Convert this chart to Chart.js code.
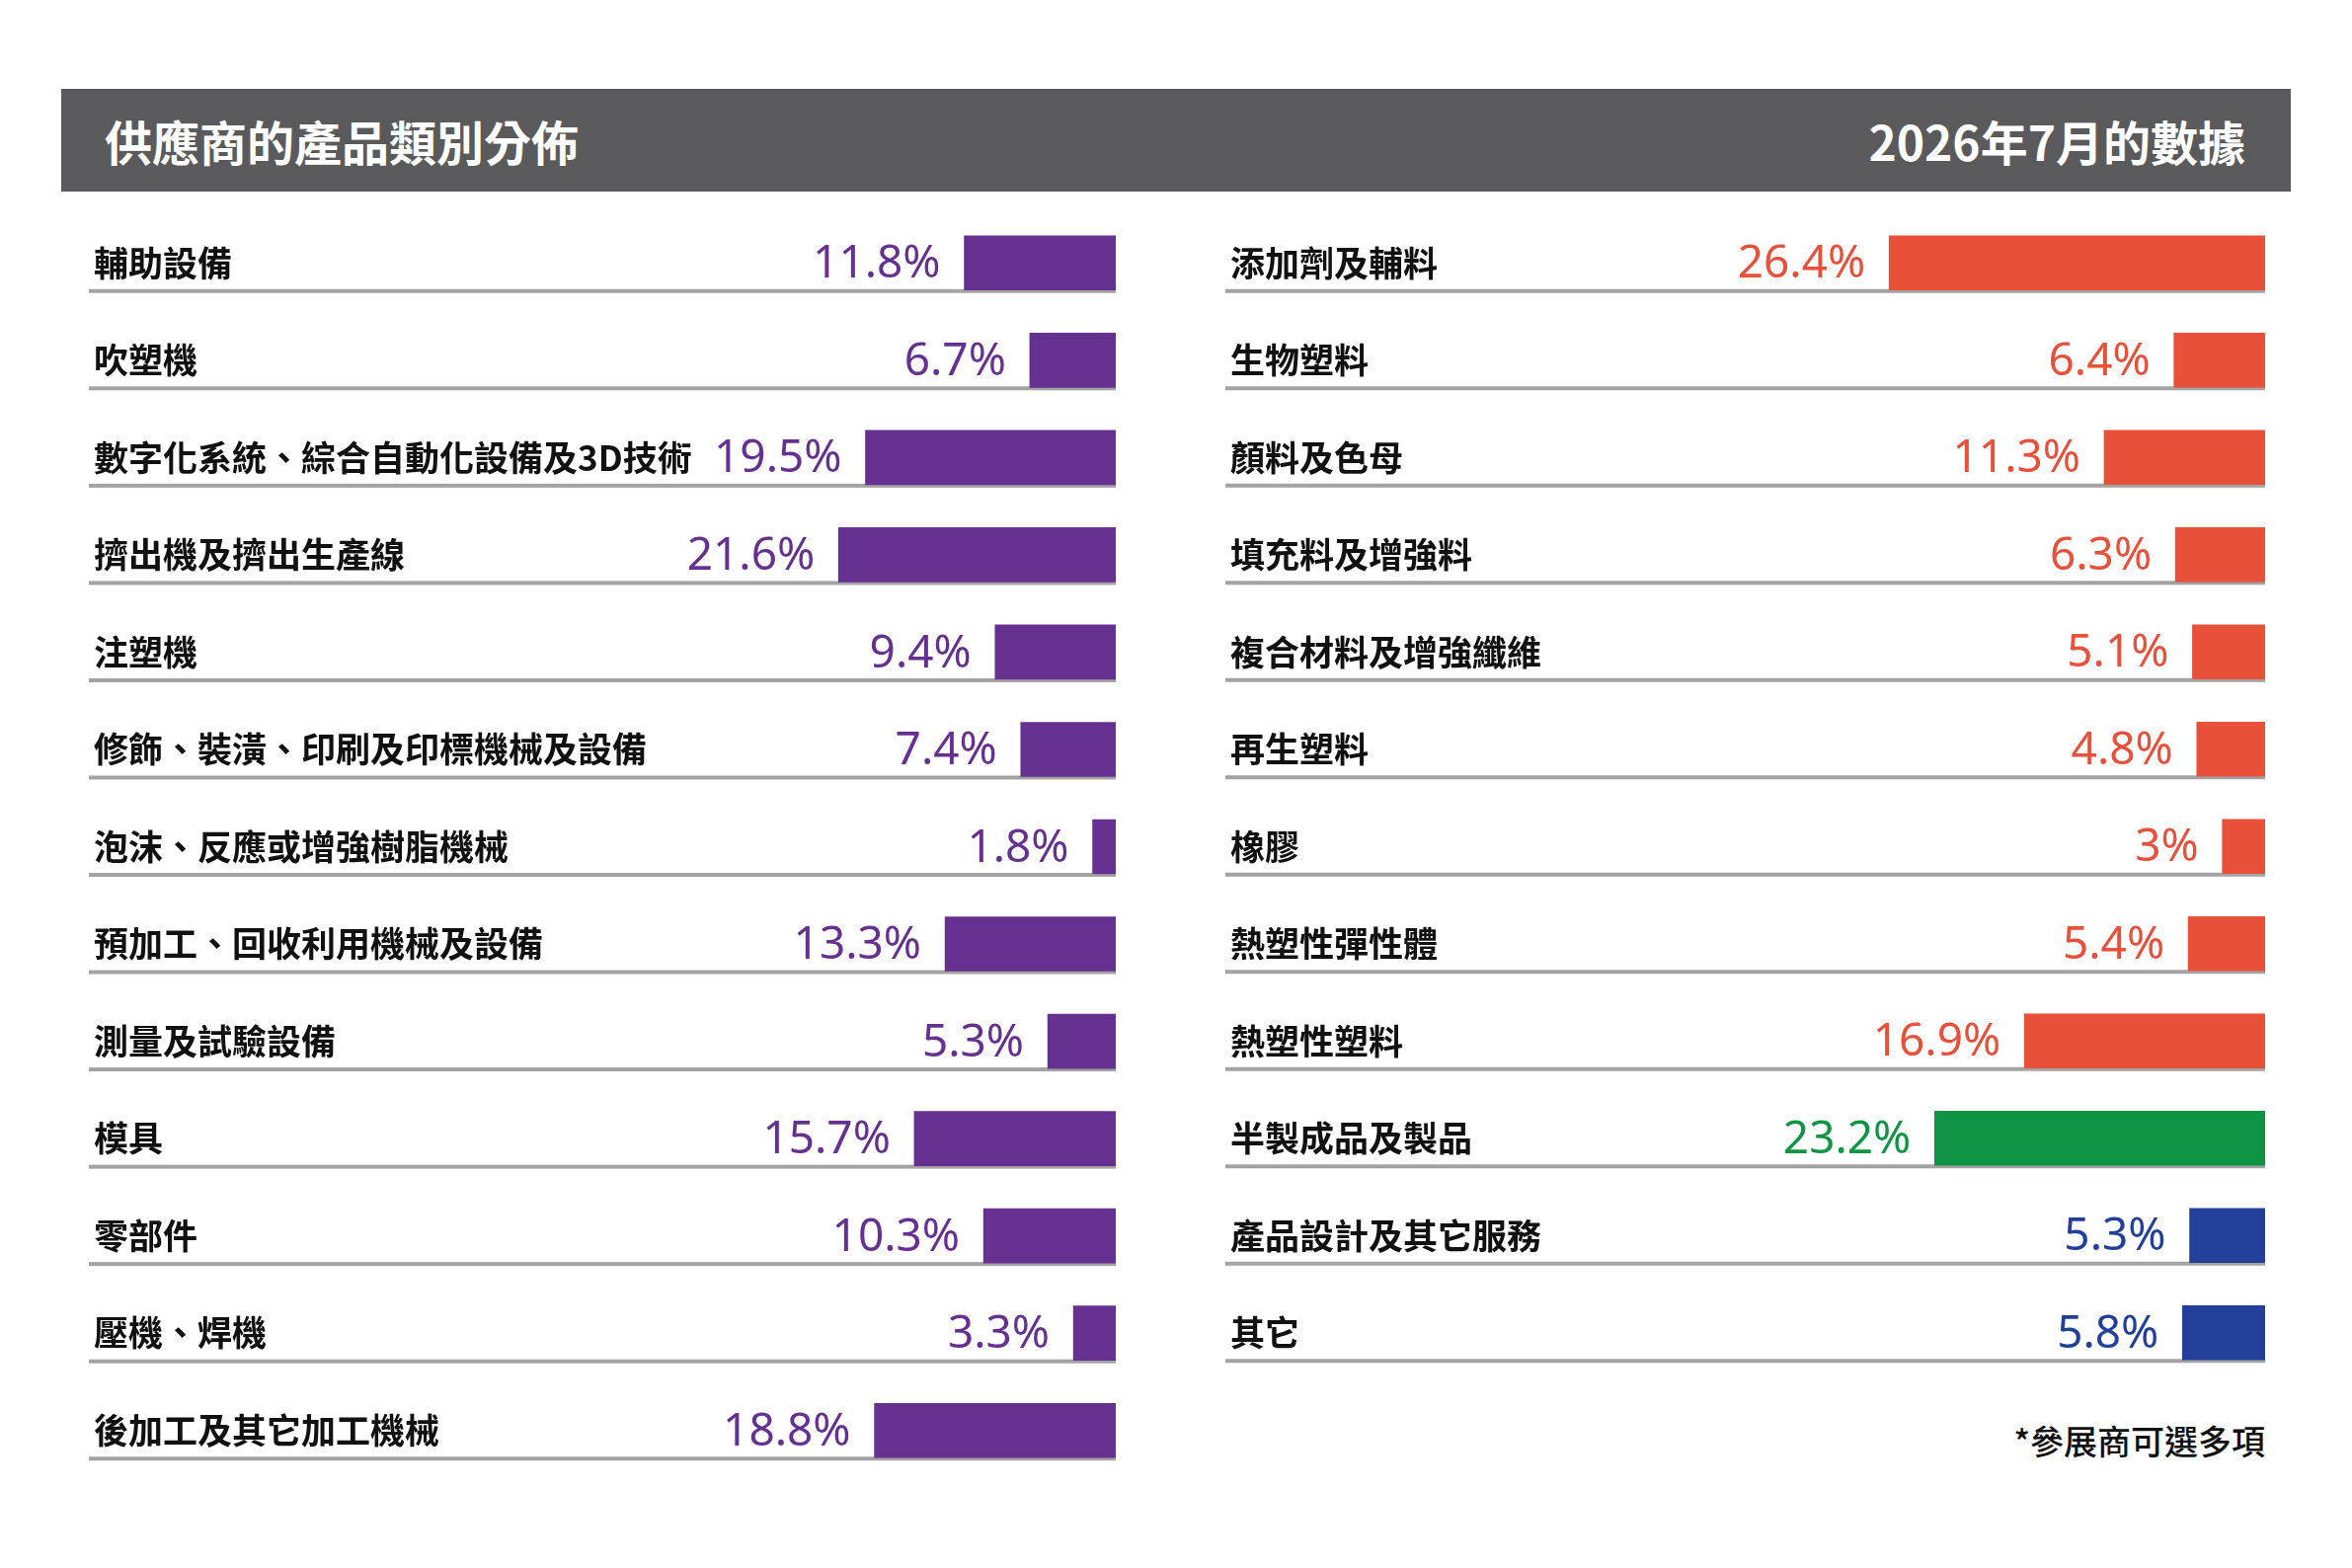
<!DOCTYPE html>
<html>
<head>
<meta charset="utf-8">
<script src="https://cdn.jsdelivr.net/npm/chart.js@4/dist/chart.umd.min.js"></script>
<style>
  html, body { margin: 0; padding: 0; background: #fff; }
  #page { position: relative; width: 2382px; height: 1588px; overflow: hidden; font-family: "Noto Sans CJK TC", "Noto Sans", sans-serif; }
  #header { position: absolute; left: 62px; top: 90px; width: 2258px; height: 104px; background: #5a5a5c; color: #fff; font-weight: 700; font-size: 48px; }
  #header .title { position: absolute; left: 44px; top: 0; line-height: 104px; }
  #header .date { position: absolute; right: 46px; top: 0; line-height: 104px; }
  canvas { position: absolute; }
  #leftChart { left: 90px; top: 217px; }
  #rightChart { left: 1241px; top: 217px; }
  #note { position: absolute; right: 88px; top: 1434px; font-size: 34px; font-weight: 500; color: #111; }
</style>
</head>
<body>
<div id="page">
  <div id="header">
    <span class="title">供應商的產品類別分佈</span>
    <span class="date">2026年7月的數據</span>
  </div>
  <canvas id="leftChart" width="1040" height="1281"></canvas>
  <canvas id="rightChart" width="1053" height="1182"></canvas>
  <div id="note">*參展商可選多項</div>
</div>
<script>
'use strict';

var leftLabels = ['輔助設備', '吹塑機', '數字化系統、綜合自動化設備及3D技術', '擠出機及擠出生產線', '注塑機',
    '修飾、裝潢、印刷及印標機械及設備', '泡沫、反應或增強樹脂機械', '預加工、回收利用機械及設備',
    '測量及試驗設備', '模具', '零部件', '壓機、焊機', '後加工及其它加工機械'];
var leftValues = [11.8, 6.7, 19.5, 21.6, 9.4, 7.4, 1.8, 13.3, 5.3, 15.7, 10.3, 3.3, 18.8];

var rightLabels = ['添加劑及輔料', '生物塑料', '顏料及色母', '填充料及增強料', '複合材料及增強纖維', '再生塑料',
    '橡膠', '熱塑性彈性體', '熱塑性塑料', '半製成品及製品', '產品設計及其它服務', '其它'];
var rightValues = [26.4, 6.4, 11.3, 6.3, 5.1, 4.8, 3, 5.4, 16.9, 23.2, 5.3, 5.8];

var PURPLE = '#65308f';
var RED = '#e8503a';
var GREEN = '#0f9444';
var BLUE = '#22409a';

var leftColors = leftValues.map(function () { return PURPLE; });
var rightColors = [RED, RED, RED, RED, RED, RED, RED, RED, RED, GREEN, BLUE, BLUE];

// row lines, category names and value labels
var rowDecor = {
    id: 'rowDecor',
    beforeDatasetsDraw: function (chart) {
        var ctx = chart.ctx;
        var area = chart.chartArea;
        var meta = chart.getDatasetMeta(0);
        ctx.save();
        ctx.fillStyle = '#a3a3a3';
        meta.data.forEach(function (bar) {
            var bottom = bar.y + bar.height / 2;
            ctx.fillRect(area.left, bottom - 1, area.right - area.left, 4);
        });
        ctx.restore();
    },
    afterDatasetsDraw: function (chart) {
        var ctx = chart.ctx;
        var area = chart.chartArea;
        var ds = chart.data.datasets[0];
        var meta = chart.getDatasetMeta(0);
        ctx.save();
        ctx.textBaseline = 'middle';
        meta.data.forEach(function (bar, i) {
            ctx.fillStyle = '#111';
            ctx.textAlign = 'left';
            ctx.font = '700 35px "Noto Sans CJK TC"';
            ctx.fillText(chart.data.labels[i], area.left + 5, bar.y);

            ctx.fillStyle = ds.backgroundColor[i];
            ctx.textAlign = 'right';
            ctx.font = '400 46px "Noto Sans", "Noto Sans CJK TC"';
            var left = Math.min(bar.x, bar.base);
            ctx.fillText(ds.data[i] + '%', left - 24, bar.y + 2);
        });
        ctx.restore();
    }
};

function makeChart(id, labels, values, colors, max) {
    var ctx = document.getElementById(id);
    return new Chart(ctx, {
        type: 'bar',
        data: {
            labels: labels,
            datasets: [{
                data: values,
                backgroundColor: colors,
                borderWidth: 0,
                barThickness: 55
            }]
        },
        options: {
            indexAxis: 'y',
            responsive: false,
            animation: false,
            devicePixelRatio: 1,
            layout: { padding: 0 },
            plugins: {
                legend: { display: false },
                tooltip: { enabled: false }
            },
            scales: {
                x: { display: false, reverse: true, min: 0, max: max },
                y: { display: false }
            }
        },
        plugins: [rowDecor]
    });
}

makeChart('leftChart', leftLabels, leftValues, leftColors, 80);
makeChart('rightChart', rightLabels, rightValues, rightColors, 73);
</script>
</body>
</html>
